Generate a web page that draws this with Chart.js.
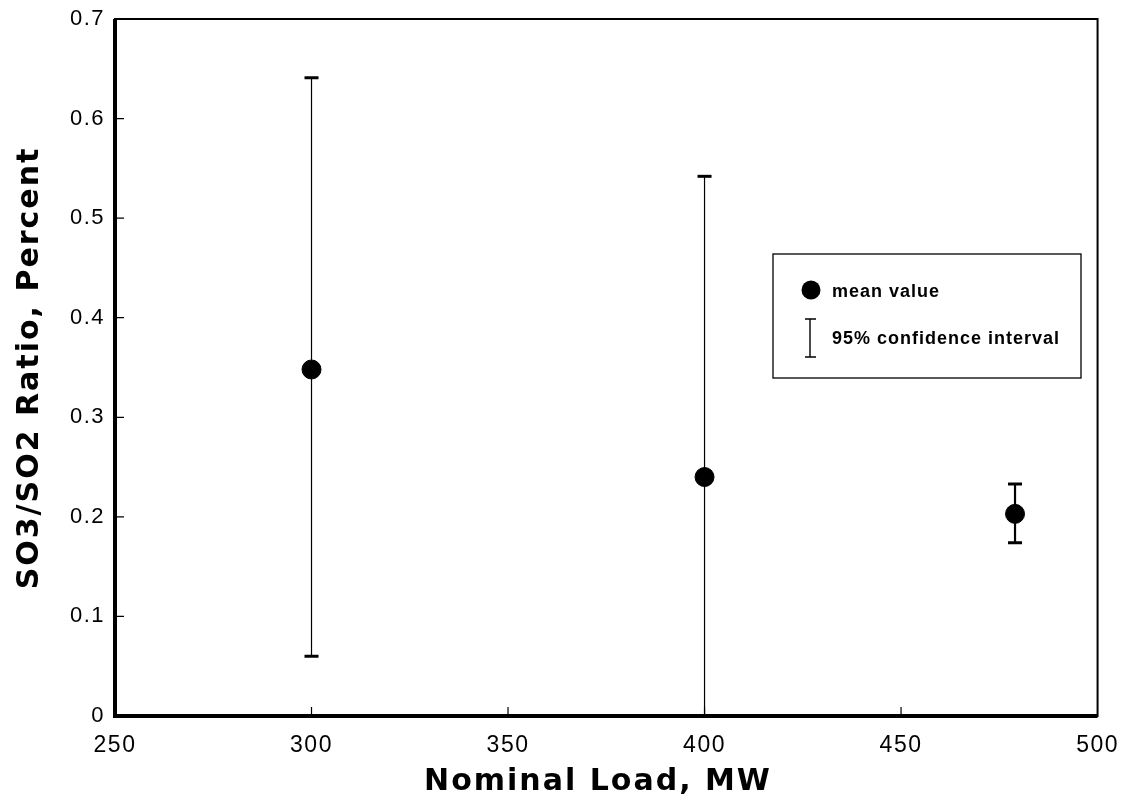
<!DOCTYPE html>
<html>
<head>
<meta charset="utf-8">
<script src="https://cdn.jsdelivr.net/npm/chart.js@4.4.1/dist/chart.umd.min.js"></script>
<style>
  body { margin: 0; background: #fff; }
  #wrap { width: 1127px; height: 802px; }
</style>
</head>
<body>
<div id="wrap"><canvas id="grafico"></canvas></div>
<script>
// dados
const cargas = [300, 400, 479];
const medias = [0.348, 0.240, 0.203];
const limInf = [0.060, 0.0, 0.174];
const limSup = [0.641, 0.542, 0.233];
const ticksX = [250, 300, 350, 400, 450, 500];
const ticksY = [0, 0.1, 0.2, 0.3, 0.4, 0.5, 0.6, 0.7];
const tituloX = "Nominal Load, MW";
const tituloY = "SO3/SO2 Ratio, Percent";
const legendaTextos = ["mean value", "95% confidence interval"];

const fonte = "Liberation Sans, Arial, sans-serif";
const fonteTitulo = "DejaVu Sans, Liberation Sans, sans-serif";

// barras de erro, moldura, ticks para dentro, títulos e legenda
const pluginExtras = {
    id: "extras",
    beforeLayout(chart) {
        chart.ctx.letterSpacing = "1.5px";
    },
    beforeDraw(chart) {
        chart.ctx.letterSpacing = "1.5px";
    },
    beforeDatasetsDraw(chart) {
        const { ctx, chartArea, scales } = chart;
        const sx = scales.x, sy = scales.y;
        ctx.save();
        ctx.strokeStyle = "#000";
        // barras de erro
        cargas.forEach((c, i) => {
            const px = sx.getPixelForValue(c);
            const yb = sy.getPixelForValue(limInf[i]);
            const yt = sy.getPixelForValue(limSup[i]);
            ctx.lineWidth = i === 2 ? 2.2 : 1.2;
            ctx.beginPath();
            ctx.moveTo(px, yb); ctx.lineTo(px, yt);
            ctx.stroke();
            ctx.lineWidth = 3;
            ctx.beginPath();
            ctx.moveTo(px - 7, yt); ctx.lineTo(px + 7, yt);
            if (limInf[i] > 0) {
                ctx.moveTo(px - 7, yb); ctx.lineTo(px + 7, yb);
            }
            ctx.stroke();
        });
        // ticks para dentro
        ctx.lineWidth = 1.2;
        ctx.beginPath();
        ticksX.slice(1, -1).forEach(v => {
            const px = sx.getPixelForValue(v);
            ctx.moveTo(px, chartArea.bottom); ctx.lineTo(px, chartArea.bottom - 9);
        });
        ticksY.slice(1, -1).forEach(v => {
            const py = sy.getPixelForValue(v);
            ctx.moveTo(chartArea.left, py); ctx.lineTo(chartArea.left + 9, py);
        });
        ctx.stroke();
        ctx.restore();
    },
    afterDraw(chart) {
        const { ctx, chartArea } = chart;
        ctx.save();
        ctx.strokeStyle = "#000";
        ctx.fillStyle = "#000";
        // moldura
        ctx.lineWidth = 2;
        ctx.strokeRect(chartArea.left, chartArea.top, chartArea.right - chartArea.left, chartArea.bottom - chartArea.top);
        ctx.lineWidth = 4;
        ctx.beginPath();
        ctx.moveTo(chartArea.left, chartArea.top);
        ctx.lineTo(chartArea.left, chartArea.bottom);
        ctx.lineTo(chartArea.right, chartArea.bottom);
        ctx.stroke();

        // títulos dos eixos
        ctx.letterSpacing = "2px";
        ctx.font = "bold 30px " + fonteTitulo;
        ctx.textAlign = "center";
        ctx.textBaseline = "middle";
        ctx.fillText(tituloX, 598, 782);
        ctx.save();
        ctx.translate(30, 368);
        ctx.rotate(-Math.PI / 2);
        ctx.fillText(tituloY, 0, 0);
        ctx.restore();

        // legenda
        const lx = 773, ly = 254, lw = 308, lh = 124;
        ctx.lineWidth = 1.3;
        ctx.strokeRect(lx, ly, lw, lh);
        ctx.beginPath();
        ctx.arc(lx + 38, ly + 36, 9.5, 0, Math.PI * 2);
        ctx.fill();
        ctx.lineWidth = 1.4;
        ctx.beginPath();
        ctx.moveTo(lx + 37, ly + 65); ctx.lineTo(lx + 37, ly + 103);
        ctx.moveTo(lx + 32, ly + 65); ctx.lineTo(lx + 43, ly + 65);
        ctx.moveTo(lx + 32, ly + 103); ctx.lineTo(lx + 43, ly + 103);
        ctx.stroke();
        ctx.letterSpacing = "1px";
        ctx.font = "bold 18px " + fonte;
        ctx.textAlign = "left";
        ctx.fillText(legendaTextos[0], lx + 59, ly + 38);
        ctx.fillText(legendaTextos[1], lx + 59, ly + 85);
        ctx.restore();
    }
};

new Chart(document.getElementById("grafico").getContext("2d"), {
    type: "scatter",
    data: {
        datasets: [{
            label: legendaTextos[0],
            data: cargas.map((c, i) => ({ x: c, y: medias[i] })),
            pointRadius: 9.5,
            pointHoverRadius: 9.5,
            pointBackgroundColor: "#000",
            pointBorderColor: "#000"
        }]
    },
    plugins: [pluginExtras],
    options: {
        responsive: true,
        maintainAspectRatio: false,
        animation: false,
        layout: { padding: { top: 19, right: 26, left: 0, bottom: 0 } },
        plugins: {
            legend: { display: false },
            tooltip: { enabled: false }
        },
        scales: {
            x: {
                type: "linear",
                min: 250,
                max: 500,
                afterBuildTicks: (s) => { s.ticks = ticksX.map(v => ({ value: v })); },
                afterFit: (s) => { s.height = 86; },
                grid: { display: false },
                border: { display: false },
                ticks: {
                    color: "#000",
                    padding: 8,
                    font: { family: fonte, size: 23 }
                }
            },
            y: {
                type: "linear",
                min: 0,
                max: 0.7,
                afterBuildTicks: (s) => { s.ticks = ticksY.map(v => ({ value: v })); },
                afterFit: (s) => { s.width = 115; },
                grid: { display: false },
                border: { display: false },
                ticks: {
                    color: "#000",
                    padding: 2,
                    font: { family: fonte, size: 22 },
                    callback: (v) => v === 0 ? "0" : v.toFixed(1)
                }
            }
        }
    }
});
</script>
</body>
</html>
